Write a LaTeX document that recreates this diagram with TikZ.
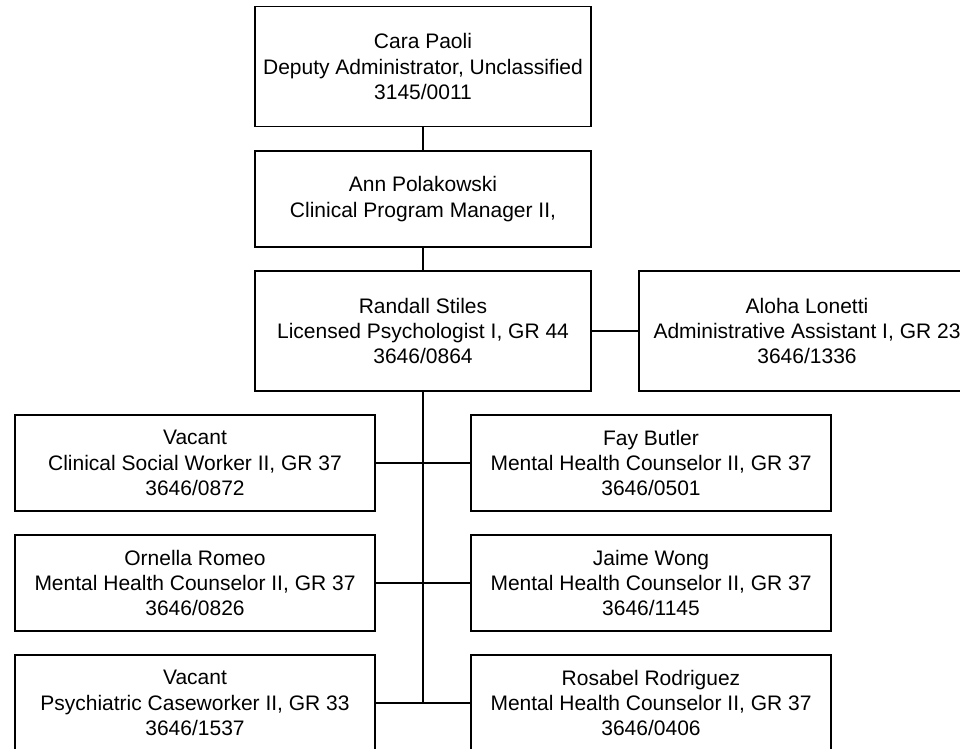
\documentclass[tikz,border=0pt]{standalone}
\usepackage{fontspec}
\setmainfont{Liberation Sans}
\begin{document}
\begin{tikzpicture}[x=0.75pt,y=-0.75pt,
  box/.style={draw=black,line width=1.25pt,fill=white,inner sep=0pt,align=center,
    font=\fontsize{15.75pt}{18.9pt}\selectfont},
  bigbox/.style={box,minimum width=252pt,minimum height=90pt},
  twobox/.style={box,minimum width=252pt,minimum height=72pt},
  subbox/.style={box,minimum width=270pt,minimum height=72pt},
  link/.style={draw=black,line width=1.25pt}]
\useasboundingbox (0,0) rectangle (960,749);
\clip (0,0) rectangle (960,749);
\fill[white] (0,0) rectangle (960,749);

\node[bigbox] (cara) at (423,66.5) {Cara Paoli\\Deputy Administrator, Unclassified\\3145/0011};
\node[twobox] (ann) at (423,199) {Ann Polakowski\\Clinical Program Manager II,};
\node[bigbox] (randall) at (423,331) {Randall Stiles\\Licensed Psychologist I, GR 44\\3646/0864};
\node[bigbox] (aloha) at (807,331) {Aloha Lonetti\\Administrative Assistant I, GR 23\\3646/1336};

\node[subbox] (l1) at (195,463) {Vacant\\Clinical Social Worker II, GR 37\\3646/0872};
\node[subbox] (r1) at (651,463) {Fay Butler\\Mental Health Counselor II, GR 37\\3646/0501};
\node[subbox] (l2) at (195,583) {Ornella Romeo\\Mental Health Counselor II, GR 37\\3646/0826};
\node[subbox] (r2) at (651,583) {Jaime Wong\\Mental Health Counselor II, GR 37\\3646/1145};
\node[subbox] (l3) at (195,703) {Vacant\\Psychiatric Caseworker II, GR 33\\3646/1537};
\node[subbox] (r3) at (651,703) {Rosabel Rodriguez\\Mental Health Counselor II, GR 37\\3646/0406};

\coordinate (spineend) at (423,703);

\draw[link] (cara.south) -- (ann.north);
\draw[link] (ann.south) -- (randall.north);
\draw[link] (randall.east) -- (aloha.west);
\draw[link] (randall.south) -- (spineend);
\draw[link] (l1.east) -- (r1.west);
\draw[link] (l2.east) -- (r2.west);
\draw[link] (l3.east) -- (r3.west);
\end{tikzpicture}
\end{document}
